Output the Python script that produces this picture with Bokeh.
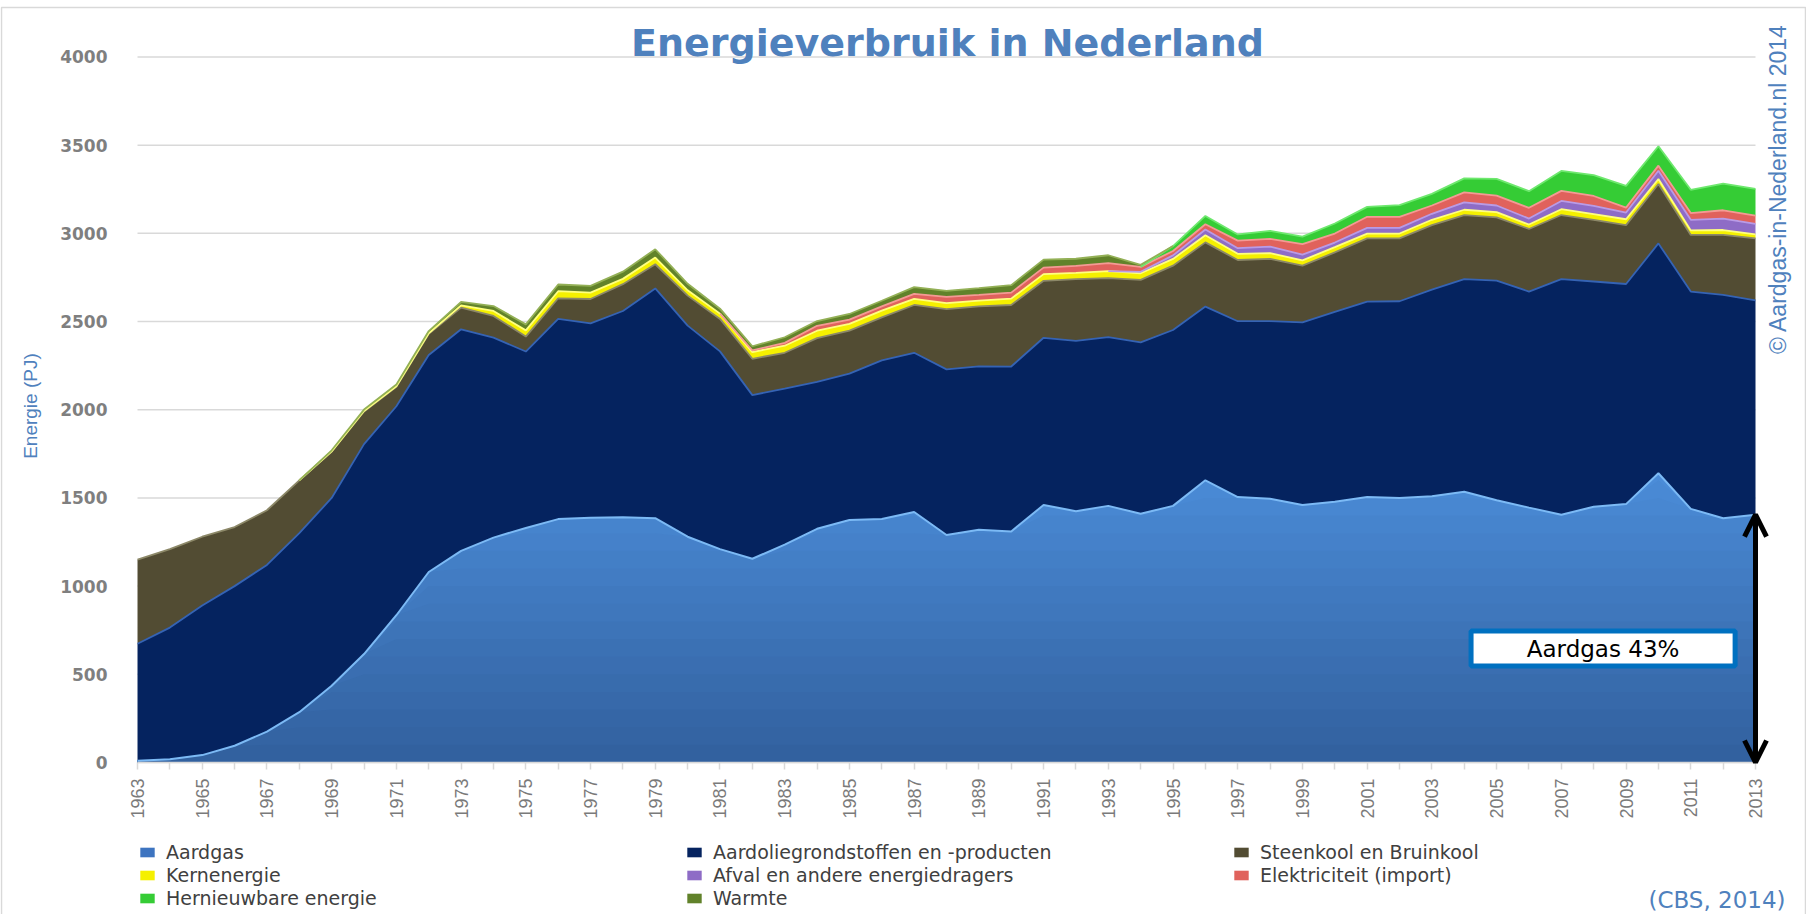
import numpy as np
from math import pi
from bokeh.plotting import figure
from bokeh.models import (Range1d, FixedTicker, Label, Legend, LegendItem, Arrow,
                          OpenHead, BoxAnnotation)
from bokeh.embed import file_html
from bokeh.resources import INLINE

years = list(range(1963, 2014))

aardgas = [10, 18, 42, 95, 175, 285, 435, 615, 835, 1080,
           1200, 1275, 1330, 1380, 1388, 1390, 1385, 1280, 1210, 1155,
           1235, 1325, 1375, 1380, 1420, 1290, 1320, 1310, 1460, 1425,
           1455, 1410, 1455, 1600, 1505, 1495, 1460, 1478, 1505, 1500,
           1510, 1535, 1487, 1445, 1405, 1450, 1465, 1640, 1438, 1385, 1405]
aardolie = [663, 747, 848, 905, 945, 1015, 1065, 1190, 1185, 1230,
            1256, 1134, 1000, 1135, 1102, 1170, 1303, 1197, 1121, 928,
            885, 833, 830, 900, 903, 939, 926, 935, 948, 965,
            957, 972, 997, 985, 997, 1007, 1035, 1077, 1108, 1115,
            1171, 1206, 1245, 1225, 1336, 1277, 1248, 1303, 1232, 1266, 1215]
steenkool = [477, 445, 390, 335, 310, 300, 262, 185, 110, 120,
             123, 123, 85, 117, 138, 152, 137, 170, 184, 206,
             203, 248, 244, 244, 271, 342, 340, 349, 323, 351,
             334, 354, 365, 364, 347, 353, 322, 337, 359, 357,
             366, 363, 359, 355, 363, 349, 334, 337, 321, 340, 352]
kernenergie = [0, 0, 0, 0, 0, 0, 2, 3, 3, 4,
               13, 28, 35, 40, 36, 30, 38, 30, 30, 38,
               40, 42, 38, 38, 35, 33, 33, 36, 38, 35,
               40, 38, 38, 40, 35, 33, 30, 30, 27, 27,
               30, 30, 29, 25, 33, 33, 33, 28, 26, 28, 22]
afval = [0] * 31 + [8, 20, 33, 32, 37, 32, 26, 32, 32,
                    34, 42, 38, 34, 47, 47, 38, 47, 60, 65, 60]
elektriciteit = [0] * 19 + [10,
                            16, 28, 24, 24, 28, 36, 32, 34, 37, 40,
                            45, 28, 25, 30, 43, 44, 60, 51, 63, 63,
                            47, 56, 56, 61, 57, 56, 28, 29, 38, 47, 47]
hernieuwbaar = [0] * 32 + [28, 47, 35, 45, 43, 57, 56, 66,
                           66, 80, 95, 94, 113, 118, 123, 110, 132, 151, 151]
warmte = [0, 0, 0, 0, 0, 0, 6, 8, 10, 12,
          19, 28, 34, 38, 38, 41, 47, 37, 28, 23,
          32, 27, 32, 32, 38, 34, 38, 42, 45, 40,
          45, 12] + [0] * 19

series_names = ["Aardgas", "Aardoliegrondstoffen en -producten", "Steenkool en Bruinkool",
                "Kernenergie", "Afval en andere energiedragers", "Elektriciteit (import)",
                "Hernieuwbare energie", "Warmte"]
y_ticks = list(range(0, 4001, 500))

W, H = 1806, 914
X0, X1 = 1958.766, 2014.576
Y0, Y1 = -861.8, 4320.3
p = figure(width=W, height=H, output_backend="svg", toolbar_location=None,
           x_range=Range1d(X0, X1), y_range=Range1d(Y0, Y1),
           min_border_left=0, min_border_right=0, min_border_top=0, min_border_bottom=0)
p.outline_line_color = None
p.background_fill_color = "white"
p.border_fill_color = "white"

# axes placed at data locations (x axis at 0 PJ, y axis at 1963)
p.xaxis.fixed_location = 0
p.yaxis.fixed_location = years[0]

p.xaxis.ticker = FixedTicker(ticks=years)
p.xaxis.bounds = (years[0], years[-1])
p.xaxis.major_label_overrides = {y: ("" if (y - 1963) % 2 else str(y)) for y in years}
p.xaxis.major_label_orientation = pi / 2
p.xaxis.axis_line_color = "#d9d9d9"
p.xaxis.axis_line_width = 1.5
p.xaxis.major_tick_line_color = "#d9d9d9"
p.xaxis.major_tick_line_width = 1.5
p.xaxis.major_tick_out = 7
p.xaxis.major_tick_in = 0
p.xaxis.minor_tick_line_color = None
p.xaxis.major_label_standoff = 9
p.xaxis.major_label_text_font = "Liberation Sans"
p.xaxis.major_label_text_font_size = "18px"
p.xaxis.major_label_text_color = "#7a7a7a"

p.yaxis.ticker = FixedTicker(ticks=y_ticks)
p.yaxis.bounds = (0, 4000)
p.yaxis.axis_line_color = None
p.yaxis.major_tick_line_color = None
p.yaxis.minor_tick_line_color = None
p.yaxis.major_label_standoff = 24
p.yaxis.major_label_text_font = "DejaVu Sans"
p.yaxis.major_label_text_font_style = "bold"
p.yaxis.major_label_text_font_size = "17px"
p.yaxis.major_label_text_color = "#7f7f7f"

p.xgrid.grid_line_color = None
p.ygrid.grid_line_color = None
# horizontal gridlines spanning only the data years
p.segment(x0=years[0], x1=years[-1], y0=y_ticks, y1=y_ticks,
          line_color="#d9d9d9", line_width=1.5, level="underlay")

# stacked layers
g = np.array(aardgas, dtype=float)
others = [aardolie, steenkool, kernenergie, afval, elektriciteit, hernieuwbaar, warmte]
fills = ["#05235f", "#524c33", "#f5f000", "#8e6cc6", "#e0625c", "#35cc35", "#61822a"]
edges = ["#3563b4", "#8c8868", "#ffff80", "#b99be6", "#f49a94", "#6ee86e", "#93b056"]

nb = 17
c_bot = np.array([50, 96, 158])
c_top = np.array([76, 142, 218])
for k in reversed(range(nb)):
    t = (k + 0.5) / nb
    c = (c_bot + (c_top - c_bot) * t).astype(int)
    col = "#%02x%02x%02x" % tuple(c)
    p.varea(x=years, y1=0, y2=np.minimum(g, (k + 1) * 100.0), fill_color=col)
r_gas = p.varea(x=years, y1=0, y2=0, fill_color="#3d74c0")

renderers = [r_gas]
tops = []
bottom = g.copy()
for vals, fc in zip(others, fills):
    v = np.array(vals, dtype=float)
    top = bottom + v
    r = p.varea(x=years, y1=bottom, y2=top, fill_color=fc)
    renderers.append(r)
    tops.append((top, v))
    bottom = top

p.line(years, g, line_color="#7cbaf5", line_width=2)
for (top, v), ec in zip(tops, edges):
    y = top.copy()
    n = len(v)
    for i in range(n):
        left0 = (i == 0) or v[i - 1] == 0
        right0 = (i == n - 1) or v[i + 1] == 0
        if v[i] == 0 and left0 and right0:
            y[i] = np.nan
    p.line(years, y, line_color=ec, line_width=1.8)

# legend (screen position relative to the frame's bottom-left)
order = [0, 3, 6, 1, 4, 7, 2, 5]
items = [LegendItem(label=series_names[i], renderers=[renderers[i]]) for i in order]
legend = Legend(items=items, location=(138, 4.5), orientation="vertical", nrows=3,
                glyph_width=18, glyph_height=12, label_standoff=10, label_width=519,
                label_height=23, spacing=0, padding=0, margin=0,
                label_text_font="DejaVu Sans", label_text_font_size="19px",
                label_text_color="#404040", border_line_color=None,
                background_fill_alpha=0)
p.add_layout(legend, "center")

# outer chart border
p.add_layout(BoxAnnotation(left=X0 + 1.0 / 32.36, right=X1 - 1.0 / 32.36,
                           top=Y1 - 7.0 / 0.176375, bottom=Y0 - 50,
                           fill_alpha=0, line_color="#d9d9d9", line_alpha=1.0, line_width=1.5))

# texts
p.add_layout(Label(x=1988.03, y=4078, text="Energieverbruik in Nederland",
                   text_font="DejaVu Sans", text_font_style="bold", text_font_size="38px",
                   text_color="#4f81bd", text_align="center", text_baseline="alphabetic"))
p.add_layout(Label(x=1959.69, y=2021, text="Energie (PJ)", angle=pi / 2,
                   text_font="Liberation Sans", text_font_size="19px",
                   text_color="#4f81bd", text_align="center", text_baseline="middle"))
p.add_layout(Label(x=2013.71, y=3288, text="\u00a9 Aardgas-in-Nederland.nl   2014", angle=pi / 2,
                   text_font="Liberation Sans", text_font_size="23px",
                   text_color="#4f81bd", text_align="center", text_baseline="middle"))
p.add_layout(Label(x=2013.93, y=-782, text="(CBS, 2014)",
                   text_font="DejaVu Sans", text_font_size="23px",
                   text_color="#4f81bd", text_align="right", text_baseline="middle"))

p.add_layout(BoxAnnotation(left=2004.21, right=2012.37, bottom=547, top=745.6,
                           fill_color="white", fill_alpha=1.0,
                           line_color="#0070c0", line_alpha=1.0, line_width=5))
p.add_layout(Label(x=2008.29, y=646, text="Aardgas 43%",
                   text_font="DejaVu Sans", text_font_size="23px",
                   text_color="black", text_align="center", text_baseline="middle"))

p.add_layout(Arrow(start=OpenHead(size=22, line_width=5, line_color="black"),
                   end=OpenHead(size=22, line_width=5, line_color="black"),
                   x_start=years[-1], y_start=0, x_end=years[-1], y_end=aardgas[-1],
                   line_width=5, line_color="black"))

open("out.html", "w").write(file_html(p, INLINE))
